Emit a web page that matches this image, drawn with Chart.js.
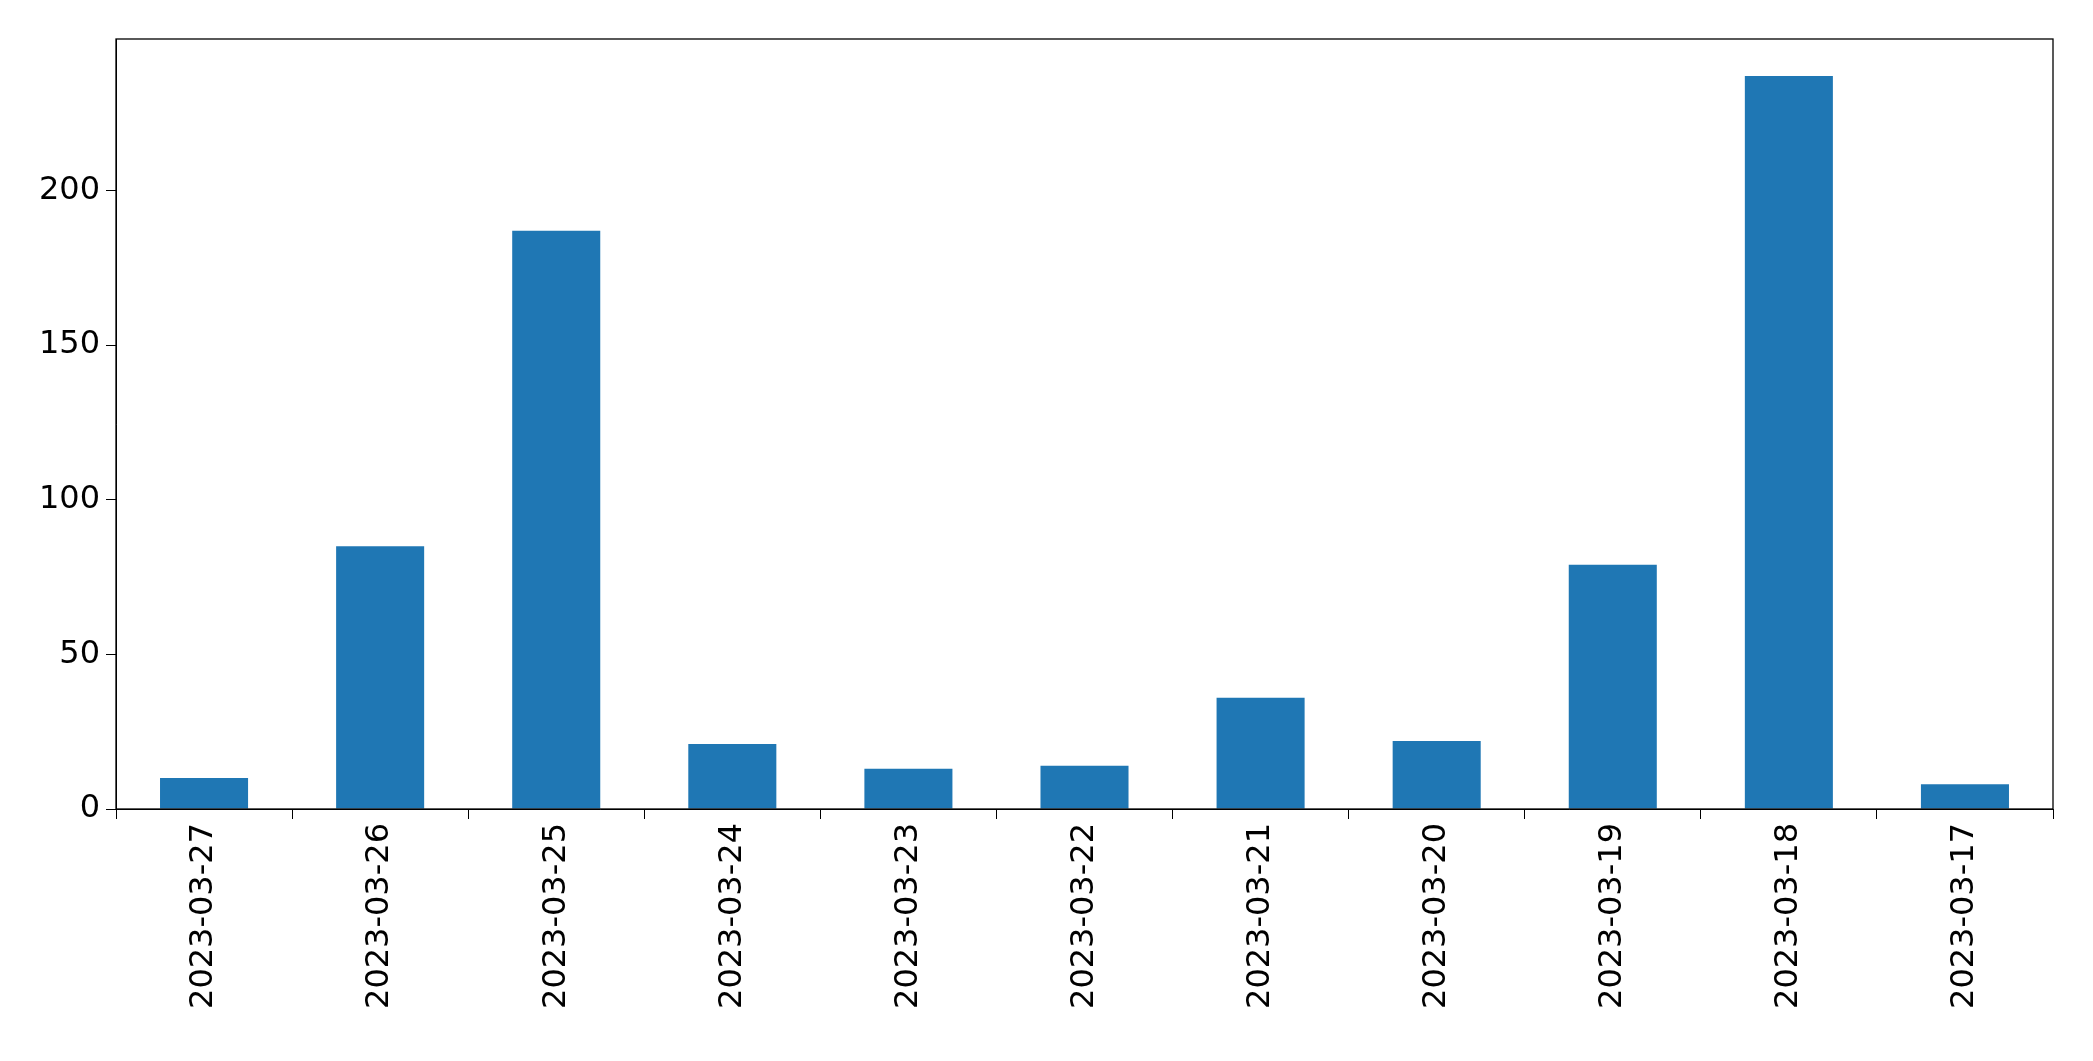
<!DOCTYPE html>
<html><head><meta charset="utf-8">
<script src="https://cdn.jsdelivr.net/npm/chart.js@4"></script>
<style>html,body{margin:0;padding:0;background:#fff}</style></head>
<body><canvas id="c" width="2093" height="1061" style="width:2093px;height:1061px"></canvas>
<script>
const categories = ["2023-03-27","2023-03-26","2023-03-25","2023-03-24","2023-03-23","2023-03-22","2023-03-21","2023-03-20","2023-03-19","2023-03-18","2023-03-17"];
const values = [10, 85, 187, 21, 13, 14, 36, 22, 79, 237, 8];
const yTicks = [0, 50, 100, 150, 200];

const frame = {id:'frame', afterDraw(ch){const a=ch.chartArea,c=ch.ctx;c.save();c.strokeStyle='#000';c.lineWidth=1.3;c.strokeRect(a.left,a.top,a.right-a.left,a.bottom-a.top);c.restore();}};
new Chart(document.getElementById('c'), {
  type:'bar',
  data:{labels:categories, datasets:[{data:values, backgroundColor:'#1f77b4', categoryPercentage:1, barPercentage:0.5}]},
  options:{
    responsive:false, animation:false, devicePixelRatio:1,
    layout:{padding:{left:0,right:40,top:39,bottom:0}},
    plugins:{legend:{display:false}, tooltip:{enabled:false}},
    scales:{
      x:{grid:{drawOnChartArea:false, drawTicks:true, tickLength:10, color:'#000'}, border:{color:'#000'},
         ticks:{color:'#000', font:{family:'DejaVu Sans', size:32}, maxRotation:90, minRotation:90, padding:4},
         afterFit(s){s.height=252;}},
      y:{min:0, max:249, grid:{drawOnChartArea:false, drawTicks:true, tickLength:10, color:'#000'}, border:{color:'#000'},
         afterBuildTicks(s){s.ticks=yTicks.map(v=>({value:v}));},
         ticks:{color:'#000', font:{family:'DejaVu Sans', size:32}, padding:6},
         afterFit(s){s.width=116;}}
    }
  },
  plugins:[frame]
});
</script></body></html>
